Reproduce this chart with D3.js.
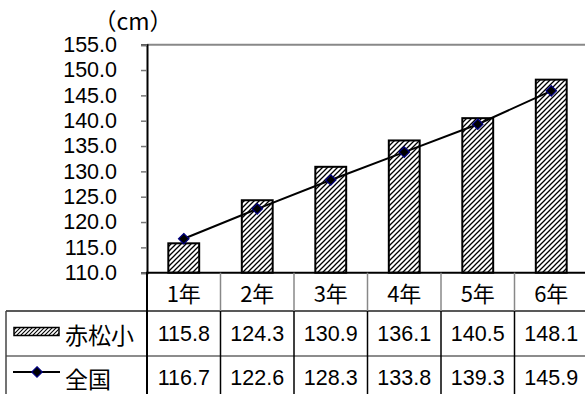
<!DOCTYPE html>
<html>
<head>
<meta charset="utf-8">
<script src="https://cdn.jsdelivr.net/npm/d3@7/dist/d3.min.js"></script>
<style>
  html, body { margin: 0; padding: 0; background: #fff; }
  svg { display: block; font-family: "Noto Sans CJK JP", "Noto Sans", sans-serif; }
</style>
</head>
<body>
<svg id="chart" width="585" height="394"></svg>
<script>
// Grade levels and average heights (cm)
const grades = ["1年", "2年", "3年", "4年", "5年", "6年"];
const schoolHeights = [115.8, 124.3, 130.9, 136.1, 140.5, 148.1];   // 赤松小
const nationalHeights = [116.7, 122.6, 128.3, 133.8, 139.3, 145.9]; // 全国
const seriesNames = ["赤松小", "全国"];
const yTicks = [110, 115, 120, 125, 130, 135, 140, 145, 150, 155];
const unitLabel = "（cm）";

const svg = d3.select("#chart");

const plot = { left: 147, right: 588, top: 44.7, bottom: 272.7 };
const rowLines = [272.7, 311, 356, 400];
const tableLeft = 6;
const numFont = "'Liberation Sans', Arial, sans-serif";

const x = d3.scaleBand().domain(grades).range([plot.left, plot.right]).padding(0);
const y = d3.scaleLinear().domain([110, 155]).range([plot.bottom, plot.top]);

// Diagonal hatch fills
const defs = svg.append("defs");
function hatch(id, size, width) {
  const p = defs.append("pattern")
    .attr("id", id)
    .attr("patternUnits", "userSpaceOnUse")
    .attr("width", size).attr("height", size);
  p.append("rect").attr("width", size).attr("height", size).attr("fill", "#fff");
  p.append("path")
    .attr("d", `M0,${size} L${size},0 M${-size / 2},${size / 2} L${size / 2},${-size / 2} M${size / 2},${size * 1.5} L${size * 1.5},${size / 2}`)
    .attr("stroke", "#000").attr("stroke-width", width);
}
hatch("hatch", 5, 1.3);
hatch("hatchSmall", 4, 1.1);

// Unit label
svg.append("text")
  .attr("x", 133).attr("y", 20)
  .attr("text-anchor", "middle").attr("dominant-baseline", "central")
  .attr("font-size", 23).attr("fill", "#000")
  .text(unitLabel);

// Top frame line
svg.append("line")
  .attr("x1", plot.left).attr("x2", plot.right)
  .attr("y1", plot.top).attr("y2", plot.top)
  .attr("stroke", "#888").attr("stroke-width", 2);

// Bars
const barW = x.bandwidth() * 0.42;
svg.append("g").selectAll("rect")
  .data(schoolHeights)
  .join("rect")
  .attr("x", (d, i) => x(grades[i]) + (x.bandwidth() - barW) / 2)
  .attr("y", d => y(d))
  .attr("width", barW)
  .attr("height", d => y(110) - y(d))
  .attr("fill", "url(#hatch)")
  .attr("stroke", "#000").attr("stroke-width", 2);

// National average line with diamond markers
const cx = (d, i) => x(grades[i]) + x.bandwidth() / 2;
svg.append("path")
  .datum(nationalHeights)
  .attr("d", d3.line().x(cx).y(d => y(d)))
  .attr("fill", "none").attr("stroke", "#000").attr("stroke-width", 2);

const diamond = d3.symbol().type(d3.symbolDiamond2).size(70);
svg.append("g").selectAll("path")
  .data(nationalHeights)
  .join("path")
  .attr("d", diamond)
  .attr("transform", (d, i) => `translate(${cx(d, i)},${y(d)})`)
  .attr("fill", "#000").attr("stroke", "#000080").attr("stroke-width", 1.2);

// Y axis
const yAxis = d3.axisLeft(y)
  .tickValues(yTicks)
  .tickSize(6)
  .tickPadding(24)
  .tickFormat(d3.format(".1f"));
const ga = svg.append("g")
  .attr("transform", `translate(${plot.left},0)`)
  .call(yAxis);
ga.select(".domain").attr("stroke", "#000").attr("stroke-width", 2);
ga.selectAll(".tick line").attr("stroke", "#777").attr("stroke-width", 1.5);
ga.selectAll(".tick text")
  .attr("font-size", 21.5).attr("fill", "#000")
  .attr("font-family", numFont);

// Data table
const tbl = svg.append("g");
// Category axis line
tbl.append("line")
  .attr("x1", plot.left - 1).attr("x2", plot.right)
  .attr("y1", rowLines[0]).attr("y2", rowLines[0])
  .attr("stroke", "#000").attr("stroke-width", 2);
// Row separators
tbl.append("line")
  .attr("x1", tableLeft).attr("x2", plot.right)
  .attr("y1", rowLines[1]).attr("y2", rowLines[1])
  .attr("stroke", "#222").attr("stroke-width", 1.5);
tbl.append("line")
  .attr("x1", tableLeft).attr("x2", plot.right)
  .attr("y1", rowLines[2]).attr("y2", rowLines[2])
  .attr("stroke", "#666").attr("stroke-width", 1.5);
// Left border of the legend column
tbl.append("line")
  .attr("x1", tableLeft).attr("x2", tableLeft)
  .attr("y1", rowLines[1]).attr("y2", rowLines[3])
  .attr("stroke", "#444").attr("stroke-width", 1.5);
// Column dividers: grey in the header row, black in the value rows
grades.forEach((g, i) => {
  const xx = x(g);
  tbl.append("line")
    .attr("x1", xx).attr("x2", xx)
    .attr("y1", rowLines[0]).attr("y2", rowLines[1])
    .attr("stroke", i === 0 ? "#000" : "#888").attr("stroke-width", i === 0 ? 2 : 1.5);
  tbl.append("line")
    .attr("x1", xx).attr("x2", xx)
    .attr("y1", rowLines[1]).attr("y2", rowLines[3])
    .attr("stroke", "#000").attr("stroke-width", i === 0 ? 2 : 1.5);
});

// Header row
tbl.selectAll("text.head")
  .data(grades)
  .join("text")
  .attr("class", "head")
  .attr("x", d => x(d) + x.bandwidth() / 2)
  .attr("y", 292)
  .attr("text-anchor", "middle").attr("dominant-baseline", "central")
  .attr("font-size", 22).attr("fill", "#000")
  .text(d => d);

// Value rows
const rows = [schoolHeights, nationalHeights];
const rowCenters = [333.5, 378];
rows.forEach((vals, r) => {
  tbl.selectAll(`text.v${r}`)
    .data(vals)
    .join("text")
    .attr("class", `v${r}`)
    .attr("x", (d, i) => x(grades[i]) + x.bandwidth() / 2)
    .attr("y", rowCenters[r])
    .attr("text-anchor", "middle").attr("dominant-baseline", "central")
    .attr("font-size", 21.5).attr("fill", "#000")
    .attr("font-family", numFont)
    .text(d => d3.format(".1f")(d));
});

// Legend keys
tbl.append("rect")
  .attr("x", 14).attr("y", 327.5).attr("width", 45).attr("height", 8)
  .attr("fill", "url(#hatchSmall)").attr("stroke", "#000").attr("stroke-width", 1.5);
tbl.append("line")
  .attr("x1", 13).attr("x2", 60).attr("y1", 372).attr("y2", 372)
  .attr("stroke", "#000").attr("stroke-width", 2);
tbl.append("path")
  .attr("d", diamond)
  .attr("transform", "translate(37,372)")
  .attr("fill", "#000").attr("stroke", "#000080").attr("stroke-width", 1.2);

tbl.selectAll("text.series")
  .data(seriesNames)
  .join("text")
  .attr("class", "series")
  .attr("x", 65)
  .attr("y", (d, i) => rowCenters[i])
  .attr("dominant-baseline", "central")
  .attr("font-size", 23).attr("fill", "#000")
  .text(d => d);
</script>
</body>
</html>
